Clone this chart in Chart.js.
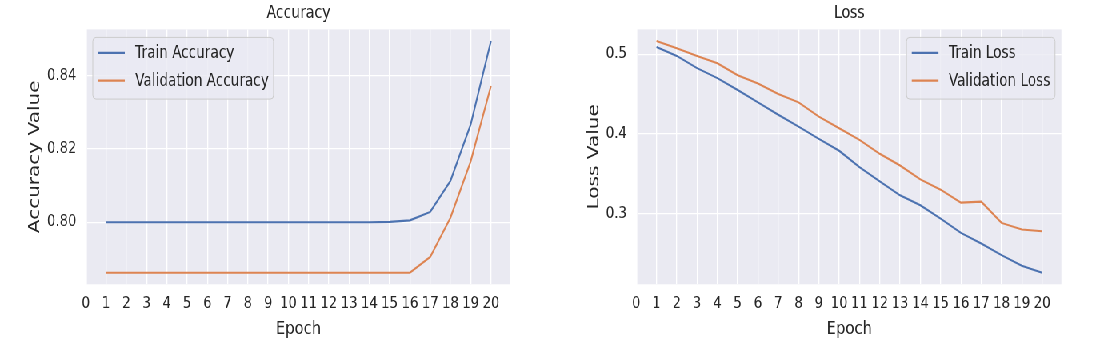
<!DOCTYPE html>
<html>
<head>
<meta charset="utf-8">
<script src="https://cdn.jsdelivr.net/npm/chart.js@4"></script>
<style>
  html, body { margin: 0; padding: 0; background: #ffffff; overflow: hidden; }
  #wrap { width: 1375px; height: 357px; display: flex; transform: scaleX(0.8); transform-origin: 0 0; }
  .box { position: relative; width: 687.5px; height: 357px; }
  canvas { display: block; }
</style>
</head>
<body>
<div id="wrap">
  <div class="box"><canvas id="acc" width="687" height="357"></canvas></div>
  <div class="box"><canvas id="loss" width="688" height="357"></canvas></div>
</div>
<script>
// ---- data ----
const epochs = [1, 2, 3, 4, 5, 6, 7, 8, 9, 10, 11, 12, 13, 14, 15, 16, 17, 18, 19, 20];
const trainAcc = [0.8000, 0.8000, 0.8000, 0.8000, 0.8000, 0.8000, 0.8000, 0.8000, 0.8000, 0.8000,
                  0.8000, 0.8000, 0.8000, 0.8000, 0.8001, 0.8005, 0.8028, 0.8113, 0.8267, 0.8495];
const valAcc = [0.7862, 0.7862, 0.7862, 0.7862, 0.7862, 0.7862, 0.7862, 0.7862, 0.7862, 0.7862,
                0.7862, 0.7862, 0.7862, 0.7862, 0.7862, 0.7862, 0.7905, 0.8012, 0.8166, 0.8372];
const trainLoss = [0.5091, 0.4979, 0.4825, 0.4700, 0.4550, 0.4396, 0.4241, 0.4091, 0.3937, 0.3788,
                   0.3583, 0.3404, 0.3229, 0.3104, 0.2937, 0.2758, 0.2625, 0.2479, 0.2346, 0.2258];
const valLoss = [0.5166, 0.5075, 0.4979, 0.4887, 0.4737, 0.4633, 0.4500, 0.4396, 0.4216, 0.4070,
                 0.3925, 0.3750, 0.3604, 0.3429, 0.3300, 0.3137, 0.3150, 0.2883, 0.2800, 0.2779];
const xTicks = [0, 1, 2, 3, 4, 5, 6, 7, 8, 9, 10, 11, 12, 13, 14, 15, 16, 17, 18, 19, 20];
const accYTicks = [0.80, 0.82, 0.84];
const accYTickLabels = ['0.80', '0.82', '0.84'];
const lossYTicks = [0.3, 0.4, 0.5];
const lossYTickLabels = ['0.3', '0.4', '0.5'];

const BLUE = '#4C72B0';
const ORANGE = '#DD8452';
const TEXT = '#262626';
const FONT = '"DejaVu Sans", "Liberation Sans", sans-serif';

Chart.defaults.font.family = FONT;
Chart.defaults.color = TEXT;

// matplotlib-style 5% margins
function padRange(arrs) {
  const all = [].concat(...arrs);
  const mn = Math.min(...all), mx = Math.max(...all);
  const p = (mx - mn) * 0.05;
  return [mn - p, mx + p];
}
const xRange = padRange([epochs]);

const bgPlugin = {
  id: 'plotBg',
  beforeDraw(chart) {
    const {ctx, chartArea: a} = chart;
    ctx.save();
    ctx.fillStyle = '#EAEAF2';
    ctx.fillRect(a.left, a.top, a.right - a.left, a.bottom - a.top);
    ctx.restore();
  }
};

const boxLegend = {
  id: 'boxLegend',
  afterDatasetsDraw(chart, args, o) {
    const {ctx, chartArea: a} = chart;
    const items = chart.data.datasets.map(d => ({text: d.label, color: d.borderColor}));
    ctx.save();
    ctx.font = '17px ' + FONT;
    const tw = Math.max(...items.map(i => ctx.measureText(i.text).width));
    const w = 53 + tw + 6;
    const h = 61.7;
    const x = o.side === 'left' ? a.left + 7.5 : a.right - 8 - w;
    const y = a.top + 8;
    const r = 4;
    ctx.beginPath();
    ctx.moveTo(x + r, y);
    ctx.lineTo(x + w - r, y);
    ctx.quadraticCurveTo(x + w, y, x + w, y + r);
    ctx.lineTo(x + w, y + h - r);
    ctx.quadraticCurveTo(x + w, y + h, x + w - r, y + h);
    ctx.lineTo(x + r, y + h);
    ctx.quadraticCurveTo(x, y + h, x, y + h - r);
    ctx.lineTo(x, y + r);
    ctx.quadraticCurveTo(x, y, x + r, y);
    ctx.closePath();
    ctx.fillStyle = 'rgba(234,234,242,0.8)';
    ctx.fill();
    ctx.lineWidth = 1;
    ctx.strokeStyle = '#CCCCCC';
    ctx.stroke();
    const rows = [15.5, 43.2];
    items.forEach((it, i) => {
      const ry = y + rows[i];
      ctx.beginPath();
      ctx.moveTo(x + 6.6, ry);
      ctx.lineTo(x + 40, ry);
      ctx.strokeStyle = it.color;
      ctx.lineWidth = 2.1;
      ctx.stroke();
      ctx.fillStyle = TEXT;
      ctx.textBaseline = 'middle';
      ctx.textAlign = 'left';
      ctx.fillText(it.text, x + 53, ry + 0.5);
    });
    ctx.restore();
  }
};

function makeChart(id, title, yTitle, yTitlePad, series, labels, yTicks, yLabels, legendSide) {
  const yRange = padRange(series);
  const colors = [BLUE, ORANGE];
  return new Chart(document.getElementById(id), {
    type: 'line',
    data: {
      datasets: series.map((s, i) => ({
        label: labels[i],
        data: epochs.map((e, k) => ({x: e, y: s[k]})),
        borderColor: colors[i],
        backgroundColor: colors[i],
        borderWidth: 2.1,
        pointRadius: 0,
        tension: 0,
        fill: false
      }))
    },
    options: {
      responsive: false,
      animation: false,
      layout: {padding: {left: 0, right: 49.25, top: 0, bottom: 0}},
      plugins: {
        legend: {display: false},
        tooltip: {enabled: false},
        title: {
          display: true, text: title, fullSize: false, color: TEXT,
          font: {size: 17.5, weight: 'normal'},
          padding: {top: 3, bottom: 5.4}
        },
        boxLegend: {side: legendSide}
      },
      scales: {
        x: {
          type: 'linear',
          min: xRange[0], max: xRange[1],
          afterBuildTicks: s => { s.ticks = xTicks.map(v => ({value: v})); },
          afterFit: s => { s.height = 72.7; },
          ticks: {autoSkip: false, maxRotation: 0, padding: 10, color: TEXT,
                  font: {size: 16.5}, callback: v => String(v)},
          grid: {color: '#FFFFFF', lineWidth: 1.3, drawTicks: false},
          border: {display: false},
          title: {display: true, text: 'Epoch', color: TEXT, font: {size: 18.5},
                  padding: {top: 0, bottom: 17}}
        },
        y: {
          type: 'linear',
          min: yRange[0], max: yRange[1],
          afterBuildTicks: s => { s.ticks = yTicks.map(v => ({value: v})); },
          afterFit: s => { s.width = 108.5; },
          ticks: {padding: 13, color: TEXT, font: {size: 16.5},
                  callback: (v, i) => yLabels[i]},
          grid: {color: '#FFFFFF', lineWidth: 1.3, drawTicks: false},
          border: {display: false},
          title: {display: true, text: yTitle, color: TEXT, font: {size: 20},
                  padding: {top: yTitlePad, bottom: 0}}
        }
      }
    },
    plugins: [bgPlugin, boxLegend]
  });
}

makeChart('acc', 'Accuracy', 'Accuracy Value', 31.75, [trainAcc, valAcc],
          ['Train Accuracy', 'Validation Accuracy'], accYTicks, accYTickLabels, 'left');
makeChart('loss', 'Loss', 'Loss Value', 43.25, [trainLoss, valLoss],
          ['Train Loss', 'Validation Loss'], lossYTicks, lossYTickLabels, 'right');
</script>
</body>
</html>
